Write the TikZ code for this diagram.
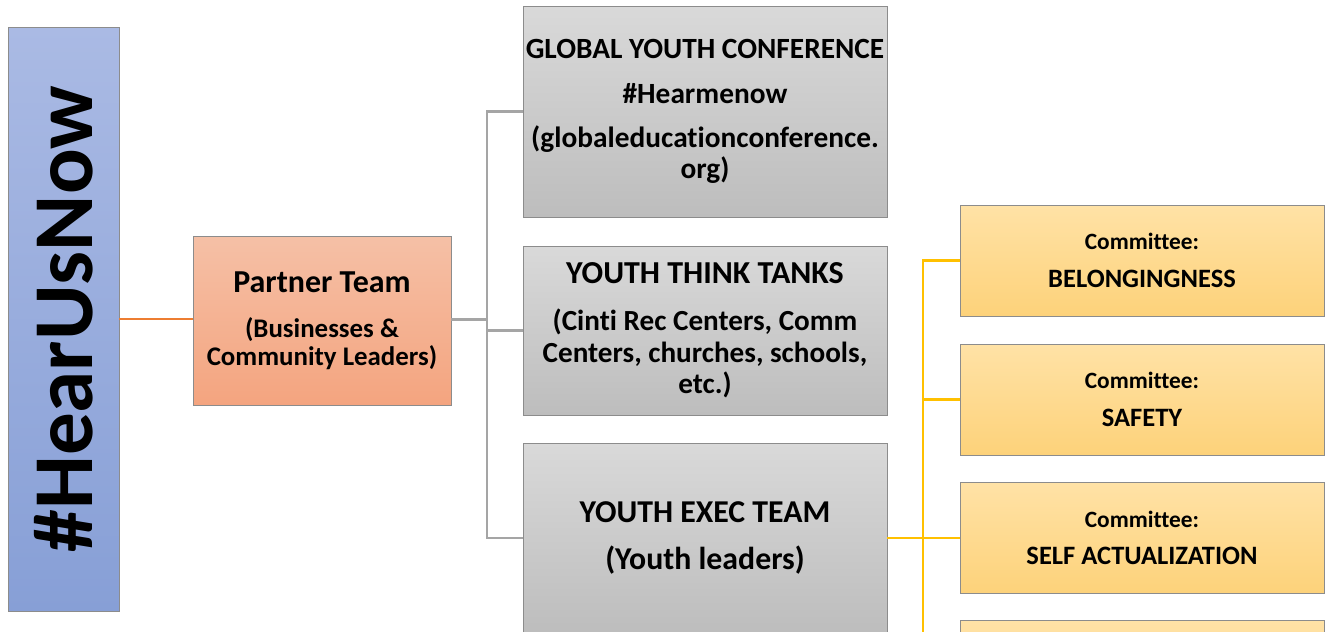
\documentclass[tikz,border=0pt]{standalone}
\usepackage{fontspec}
\setmainfont{Carlito}[Ligatures=NoCommon]
\definecolor{hunblue1}{HTML}{AABAE4}
\definecolor{hunblue2}{HTML}{879FD6}
\definecolor{hunpeach1}{HTML}{F5C0A6}
\definecolor{hunpeach2}{HTML}{F4A47F}
\definecolor{hungrey1}{HTML}{D9D9D9}
\definecolor{hungrey2}{HTML}{BDBDBD}
\definecolor{hunyellow1}{HTML}{FFE2A6}
\definecolor{hunyellow2}{HTML}{FDD27A}
\definecolor{hunedge}{HTML}{8C8C8C}
\definecolor{hunorange}{HTML}{ED7D31}
\definecolor{hunline}{HTML}{A5A5A5}
\definecolor{hungold}{HTML}{FFC000}
\newcommand{\hunsize}[1]{\fontsize{#1}{18}\selectfont}

\begin{document}
\begin{tikzpicture}[x=0.02cm,y=-0.02cm,
  box/.style={draw=hunedge,line width=0.5pt,align=center,inner sep=0pt},
  bluebox/.style={box,top color=hunblue1,bottom color=hunblue2},
  peachbox/.style={box,top color=hunpeach1,bottom color=hunpeach2,minimum width=5.16cm,minimum height=3.38cm,font=\bfseries\hunsize{15.3}},
  greybox/.style={box,top color=hungrey1,bottom color=hungrey2,minimum width=7.28cm},
  yellowbox/.style={box,top color=hunyellow1,bottom color=hunyellow2,minimum width=7.28cm,minimum height=2.22cm,font=\bfseries\hunsize{15.1}},
  link/.style={line width=1.4pt}]
\useasboundingbox (0,0) rectangle (1330,632); %page size in pixels
\clip (0,0) rectangle (1330,632); %bottom row is cut off
% left column
\node[bluebox,minimum width=2.22cm,minimum height=11.68cm,font=\bfseries] (hear) at (63.5,319) {\rotatebox{90}{\fontsize{48.5}{48}\selectfont\#HearUsNow}};
\node[peachbox] (partner) at (322,321) {{\hunsize{18.2}Partner Team}\\[7.5pt](Businesses \&\\[-2pt]Community Leaders)};
% middle column
\node[greybox,minimum height=4.22cm,font=\bfseries\hunsize{16.7}] (gyc) at (705,111.5) {GLOBAL YOUTH CONFERENCE\\[7.5pt]\#Hearmenow\\[7pt](globaleducationconference.\\org)};
\node[greybox,minimum height=3.38cm,font=\bfseries\hunsize{16.6}] (ttank) at (705,330.5) {{\hunsize{18.2}YOUTH THINK TANKS}\\[8.5pt](Cinti Rec Centers, Comm\\Centers, churches, schools,\\etc.)};
\node[greybox,minimum height=3.8cm,font=\bfseries\hunsize{18.1}] (exec) at (705,538) {YOUTH EXEC TEAM\\[9pt](Youth leaders)};
% right column
\node[yellowbox] (belong) at (1142,260.5) {{\hunsize{13.3}Committee:}\\[3.5pt]BELONGINGNESS};
\node[yellowbox] (safety) at (1142,399.5) {{\hunsize{13.3}Committee:}\\[3.5pt]SAFETY};
\node[yellowbox] (selfact) at (1142,538) {{\hunsize{13.3}Committee:}\\[3.5pt]SELF ACTUALIZATION};
\node[yellowbox] (nextcom) at (1142,676) {};
% connectors
\coordinate (gsplit) at (487,319.5);
\coordinate (ysplit) at (923,538);
\draw[link,hunorange] (hear.east) -- (hear.east -| partner.west);
\draw[link,hunline] (partner.east |- gsplit) -- (gsplit);
\foreach \b in {gyc,ttank,exec} \draw[link,hunline] (gsplit) |- (\b.west);
\draw[link,hungold] (exec.east) -- (ysplit);
\foreach \c in {belong,safety,selfact,nextcom} \draw[link,hungold] (ysplit) |- (\c.west);
\end{tikzpicture}
\end{document}
